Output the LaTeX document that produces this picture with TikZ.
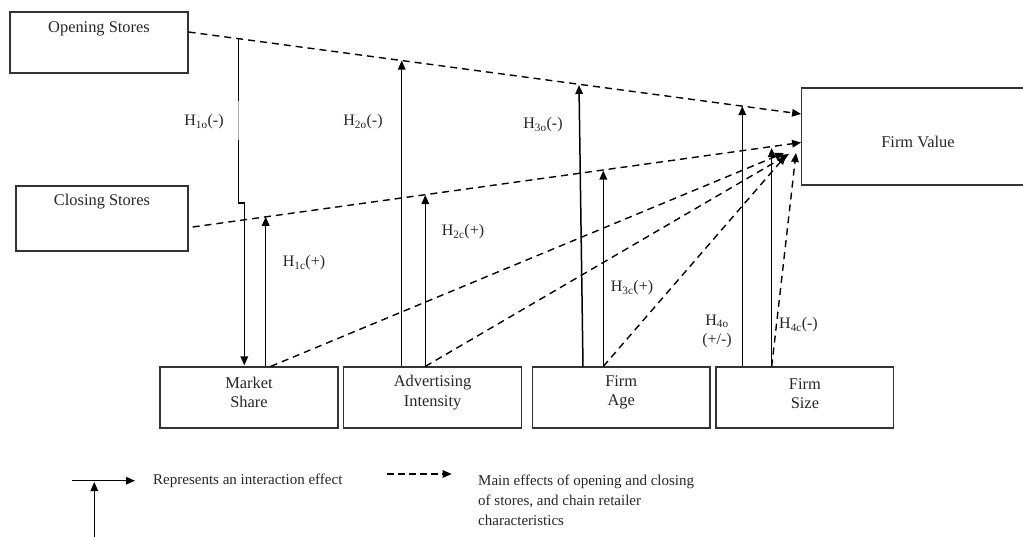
\documentclass[tikz,border=0pt]{standalone}
\usepackage{fontspec}
\setmainfont{Liberation Serif}
\usetikzlibrary{arrows.meta,calc}
\begin{document}
\begin{tikzpicture}[x=1pt,y=-1pt,
  box/.style={draw=black!80, line width=1.2pt, rectangle, inner sep=0pt, minimum height=61pt},
  boxtext/.style={font=\fontsize{16.4}{19.5}\selectfont, text=black!85, align=center, inner sep=0pt},
  lbl/.style={font=\fontsize{16}{19}\selectfont, text=black!85, inner sep=0pt, align=center},
  iarrow/.style={line width=1.5pt, -{Triangle[length=9pt,width=7.5pt]}},
  marrow/.style={line width=1.4pt, dash pattern=on 7pt off 5pt, -{Triangle[length=9pt,width=7.5pt]}},
  legtext/.style={font=\fontsize{15}{20.3}\selectfont, text=black!85, inner sep=0pt, align=left}]

\clip (0,0) rectangle (1023,536);

% boxes
\node[box, minimum width=178pt] (os) at (99,42.5) {};
\node[box, minimum width=172pt, minimum height=65pt] (cs) at (102,218.5) {};
\node[box, minimum width=232pt, minimum height=97pt] (fv) at (917.7,136.5) {};
\node[box, minimum width=178pt] (ms) at (249,397.5) {};
\node[box, minimum width=177.8pt] (ai) at (432.6,397.5) {};
\node[box, minimum width=177.7pt] (fa) at (621.2,397.5) {};
\node[box, minimum width=177.7pt] (fs) at (804.9,397.5) {};

% box texts
\node[boxtext] (ost) at (99,29) {Opening Stores};
\node[boxtext] (cst) at (102,202) {Closing Stores};
\node[boxtext] (fvt) at (918,141.7) {Firm Value};
\node[boxtext] (mst) at (249,392.5) {Market\\Share};
\node[boxtext] (ait) at (432.6,392.5) {Advertising\\Intensity};
\node[boxtext] (fat) at (621.2,392.5) {Firm\\Age};
\node[boxtext] (fst) at (804.9,393.5) {Firm\\Size};

% coordinates on the main-effect lines
\coordinate (h1oT) at (238.3,38.7);
\coordinate (h1oA) at (238.3,203);
\coordinate (h1oB) at (244.3,203);
\coordinate (h2oT) at (401.7,60.6);
\coordinate (h3oT) at (579,85);
\coordinate (h3oB) at (583,367);
\coordinate (h4oT) at (742.3,106.1);
\coordinate (h1cT) at (265.7,216.8);
\coordinate (h2cT) at (425.3,195);
\coordinate (h3cT) at (603.3,170.5);
\coordinate (h4cT) at (771.7,148);
\coordinate (msE) at (784,153);
\coordinate (aiE) at (789,154);
\coordinate (faE) at (786,155.5);
\coordinate (fsE) at (796,153);

% main effects (dashed)
\draw[marrow] ($(os.east)+(0,-10.5)$) -- ($(fv.west)+(0,-22.5)$);
\draw[marrow] ($(cs.east)+(4,8.5)$) -- ($(fv.west)+(0,6)$);
\draw[marrow] ($(ms.north -| h1cT)+(5,0)$) -- (msE);
\draw[marrow] (ai.north -| h2cT) -- (aiE);
\draw[marrow] (fa.north -| h3cT) -- (faE);
\draw[marrow] (fs.north -| h4cT) -- (fsE);

% interaction effects (solid)
\draw[iarrow, shorten >=1pt] (h1oT) -- (h1oA) -- (h1oB) -- (ms.north -| h1oB);
\coordinate (g1) at (238.3,101);
\coordinate (g2) at (238.3,140);
\draw[white, line width=2pt] (g1) -- (g2);
\draw[black!35, line width=0.5pt] (g1) -- (g2);
\draw[iarrow] (ms.north -| h1cT) -- (h1cT);
\draw[iarrow] (ai.north -| h2oT) -- (h2oT);
\draw[iarrow] (ai.north -| h2cT) -- (h2cT);
\draw[iarrow] (fa.north -| h3oB) -- (h3oT);
\draw[iarrow] (fa.north -| h3cT) -- (h3cT);
\draw[iarrow] (fs.north -| h4oT) -- (h4oT);
\draw[iarrow] (fs.north -| h4cT) -- (h4cT);

% hypothesis labels
\node[lbl] (l1o) at (204,122) {H\textsubscript{1o}(-)};
\node[lbl] (l2o) at (363,122) {H\textsubscript{2o}(-)};
\node[lbl] (l3o) at (543,125) {H\textsubscript{3o}(-)};
\node[lbl] (l1c) at (304,263) {H\textsubscript{1c}(+)};
\node[lbl] (l2c) at (463,232) {H\textsubscript{2c}(+)};
\node[lbl] (l3c) at (632,288) {H\textsubscript{3c}(+)};
\node[lbl] (l4o) at (717,331) {H\textsubscript{4o}\\(+/-)};
\node[lbl] (l4c) at (798.5,325) {H\textsubscript{4c}(-)};

% legend
\coordinate (lgA) at (72,480.7);
\coordinate (lgB) at (135,480.7);
\coordinate (lgC) at (94.3,540);
\coordinate (lgD) at (94.3,482);
\draw[iarrow] (lgA) -- (lgB);
\draw[iarrow] (lgC) -- (lgD);
\node[legtext, anchor=base west] (leg1) at (153,484) {Represents an interaction effect};
\coordinate (lgE) at (386.7,474);
\coordinate (lgF) at (451.7,474);
\draw[marrow, dash pattern=on 7pt off 4pt] (lgE) -- (lgF);
\node[legtext, anchor=north west] (leg2) at (478,474.5) {Main effects of opening and closing\\of stores, and chain retailer\\characteristics};
\end{tikzpicture}
\end{document}
